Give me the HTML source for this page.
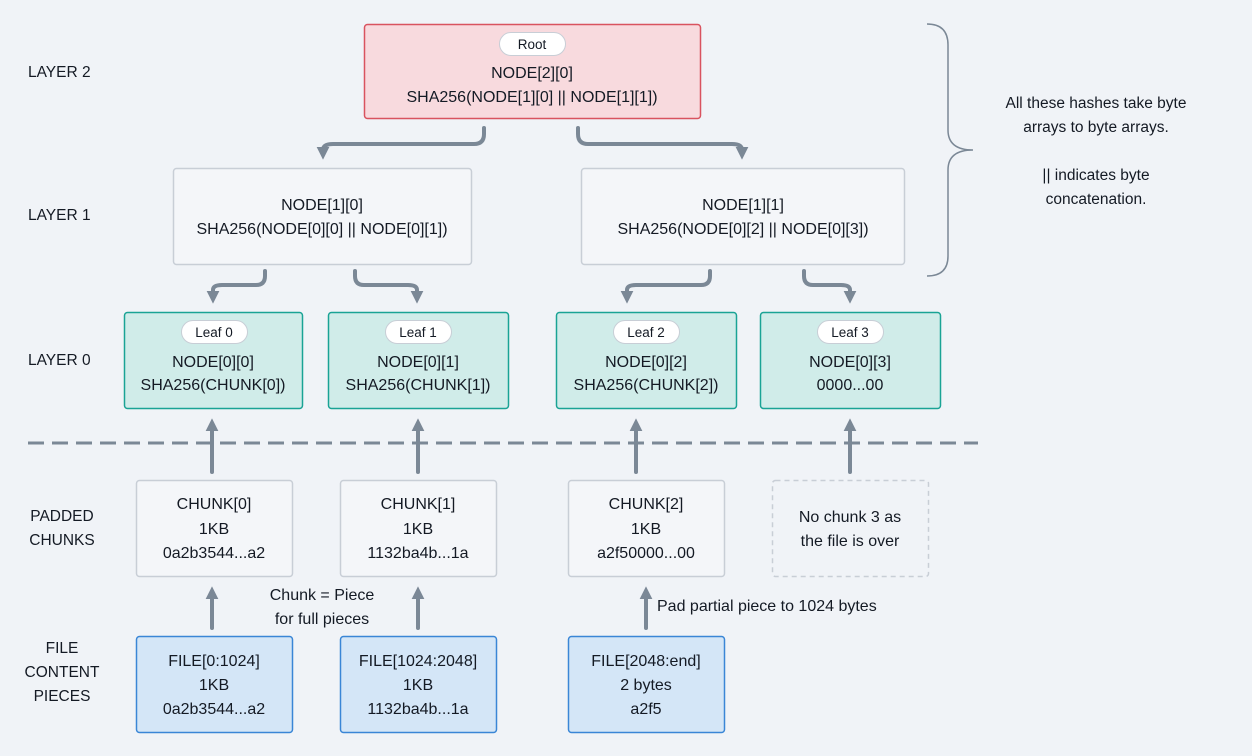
<!DOCTYPE html>
<html><head><meta charset="utf-8"><style>
html,body{margin:0;padding:0;background:#f0f3f7;}
svg{display:block;font-family:"Liberation Sans",sans-serif;font-size:16px;}
text{fill:#141a24;}
</style></head><body>
<svg width="1252" height="756" viewBox="0 0 1252 756" xmlns="http://www.w3.org/2000/svg">
<defs>
<marker id="ah" viewBox="0 0 10 10" refX="4" refY="5" markerWidth="3.2" markerHeight="3.2" orient="auto" markerUnits="strokeWidth">
<path d="M0,0 L10,5 L0,10 z" fill="#7b8896"/></marker>
</defs>
<rect width="1252" height="756" fill="#f0f3f7"/>

<g font-size="15.5">
<text x="28" y="77">LAYER 2</text>
<text x="28" y="220">LAYER 1</text>
<text x="28" y="365">LAYER 0</text>
<text x="62" y="521" text-anchor="middle">PADDED</text>
<text x="62" y="545" text-anchor="middle">CHUNKS</text>
<text x="62" y="653" text-anchor="middle">FILE</text>
<text x="62" y="677" text-anchor="middle">CONTENT</text>
<text x="62" y="701" text-anchor="middle">PIECES</text>
</g>

<rect x="364.5" y="24.5" width="336" height="94" rx="3" fill="#f8dade" stroke="#d9535f" stroke-width="1.5"/>
<rect x="499.5" y="32.5" width="66" height="23" rx="11.5" fill="#fff" stroke="#c8ced6"/>
<text x="532" y="49" text-anchor="middle" font-size="13.5">Root</text>
<text x="532" y="78" text-anchor="middle">NODE[2][0]</text>
<text x="532" y="102" text-anchor="middle">SHA256(NODE[1][0] || NODE[1][1])</text>

<rect x="173.5" y="168.5" width="298" height="96" rx="3" fill="#f4f6f9" stroke="#c8ced6" stroke-width="1.5"/>
<text x="322" y="210" text-anchor="middle">NODE[1][0]</text>
<text x="322" y="234" text-anchor="middle">SHA256(NODE[0][0] || NODE[0][1])</text>
<rect x="581.5" y="168.5" width="323" height="96" rx="3" fill="#f4f6f9" stroke="#c8ced6" stroke-width="1.5"/>
<text x="743" y="210" text-anchor="middle">NODE[1][1]</text>
<text x="743" y="234" text-anchor="middle">SHA256(NODE[0][2] || NODE[0][3])</text>

<g>
<rect x="124.5" y="312.5" width="178" height="96" rx="3" fill="#d0ece9" stroke="#1aa395" stroke-width="1.5"/>
<rect x="181.5" y="320.5" width="66" height="23" rx="11.5" fill="#fff" stroke="#c8ced6"/>
<text x="214" y="337" text-anchor="middle" font-size="13.5">Leaf 0</text>
<text x="213" y="367" text-anchor="middle">NODE[0][0]</text>
<text x="213" y="390" text-anchor="middle">SHA256(CHUNK[0])</text>

<rect x="328.5" y="312.5" width="180" height="96" rx="3" fill="#d0ece9" stroke="#1aa395" stroke-width="1.5"/>
<rect x="385.5" y="320.5" width="66" height="23" rx="11.5" fill="#fff" stroke="#c8ced6"/>
<text x="418" y="337" text-anchor="middle" font-size="13.5">Leaf 1</text>
<text x="418" y="367" text-anchor="middle">NODE[0][1]</text>
<text x="418" y="390" text-anchor="middle">SHA256(CHUNK[1])</text>

<rect x="556.5" y="312.5" width="180" height="96" rx="3" fill="#d0ece9" stroke="#1aa395" stroke-width="1.5"/>
<rect x="613.5" y="320.5" width="66" height="23" rx="11.5" fill="#fff" stroke="#c8ced6"/>
<text x="646" y="337" text-anchor="middle" font-size="13.5">Leaf 2</text>
<text x="646" y="367" text-anchor="middle">NODE[0][2]</text>
<text x="646" y="390" text-anchor="middle">SHA256(CHUNK[2])</text>

<rect x="760.5" y="312.5" width="180" height="96" rx="3" fill="#d0ece9" stroke="#1aa395" stroke-width="1.5"/>
<rect x="817.5" y="320.5" width="66" height="23" rx="11.5" fill="#fff" stroke="#c8ced6"/>
<text x="850" y="337" text-anchor="middle" font-size="13.5">Leaf 3</text>
<text x="850" y="367" text-anchor="middle">NODE[0][3]</text>
<text x="850" y="390" text-anchor="middle">0000...00</text>
</g>

<line x1="28" y1="443" x2="978" y2="443" stroke="#7b8896" stroke-width="3" stroke-dasharray="16,8"/>

<rect x="136.5" y="480.5" width="156" height="96" rx="3" fill="#f4f6f9" stroke="#c8ced6" stroke-width="1.5"/>
<text x="214" y="509" text-anchor="middle">CHUNK[0]</text>
<text x="214" y="534" text-anchor="middle">1KB</text>
<text x="214" y="558" text-anchor="middle">0a2b3544...a2</text>
<rect x="340.5" y="480.5" width="156" height="96" rx="3" fill="#f4f6f9" stroke="#c8ced6" stroke-width="1.5"/>
<text x="418" y="509" text-anchor="middle">CHUNK[1]</text>
<text x="418" y="534" text-anchor="middle">1KB</text>
<text x="418" y="558" text-anchor="middle">1132ba4b...1a</text>
<rect x="568.5" y="480.5" width="156" height="96" rx="3" fill="#f4f6f9" stroke="#c8ced6" stroke-width="1.5"/>
<text x="646" y="509" text-anchor="middle">CHUNK[2]</text>
<text x="646" y="534" text-anchor="middle">1KB</text>
<text x="646" y="558" text-anchor="middle">a2f50000...00</text>
<rect x="772.5" y="480.5" width="156" height="96" rx="3" fill="none" stroke="#c8ced6" stroke-width="1.5" stroke-dasharray="5,4"/>
<text x="850" y="522" text-anchor="middle">No chunk 3 as</text>
<text x="850" y="546" text-anchor="middle">the file is over</text>

<rect x="136.5" y="636.5" width="156" height="96" rx="3" fill="#d4e6f7" stroke="#3a86d6" stroke-width="1.5"/>
<text x="214" y="666" text-anchor="middle">FILE[0:1024]</text>
<text x="214" y="690" text-anchor="middle">1KB</text>
<text x="214" y="714" text-anchor="middle">0a2b3544...a2</text>
<rect x="340.5" y="636.5" width="156" height="96" rx="3" fill="#d4e6f7" stroke="#3a86d6" stroke-width="1.5"/>
<text x="418" y="666" text-anchor="middle">FILE[1024:2048]</text>
<text x="418" y="690" text-anchor="middle">1KB</text>
<text x="418" y="714" text-anchor="middle">1132ba4b...1a</text>
<rect x="568.5" y="636.5" width="156" height="96" rx="3" fill="#d4e6f7" stroke="#3a86d6" stroke-width="1.5"/>
<text x="646" y="666" text-anchor="middle">FILE[2048:end]</text>
<text x="646" y="690" text-anchor="middle">2 bytes</text>
<text x="646" y="714" text-anchor="middle">a2f5</text>

<text x="322" y="600" text-anchor="middle">Chunk = Piece</text>
<text x="322" y="624" text-anchor="middle">for full pieces</text>
<text x="657" y="611">Pad partial piece to 1024 bytes</text>

<g fill="none" stroke="#7b8896" stroke-width="4" stroke-linecap="round">
<path d="M484,128 V134 Q484,144 474,144 H333 Q323,144 323,150 L323,152" marker-end="url(#ah)"/>
<path d="M578,128 V134 Q578,144 588,144 H732 Q742,144 742,150 L742,152" marker-end="url(#ah)"/>
<path d="M265,271 V276 Q265,285 256,285 H222 Q213,285 213,290 L213,296" marker-end="url(#ah)"/>
<path d="M355,271 V276 Q355,285 364,285 H408 Q417,285 417,290 L417,296" marker-end="url(#ah)"/>
<path d="M710,271 V276 Q710,285 701,285 H636 Q627,285 627,290 L627,296" marker-end="url(#ah)"/>
<path d="M804,271 V276 Q804,285 813,285 H841 Q850,285 850,290 L850,296" marker-end="url(#ah)"/>
<path d="M212,472 V426" marker-end="url(#ah)"/>
<path d="M418,472 V426" marker-end="url(#ah)"/>
<path d="M636,472 V426" marker-end="url(#ah)"/>
<path d="M850,472 V426" marker-end="url(#ah)"/>
<path d="M212,628 V594" marker-end="url(#ah)"/>
<path d="M418,628 V594" marker-end="url(#ah)"/>
<path d="M646,628 V594" marker-end="url(#ah)"/>
</g>

<path d="M927,24 Q948,24 948,45 V130 Q948,150 973,150 Q948,150 948,170 V256 Q948,276 927,276" fill="none" stroke="#7b8896" stroke-width="1.5"/>
<g text-anchor="middle" font-size="15.5">
<text x="1096" y="108">All these hashes take byte</text>
<text x="1096" y="132">arrays to byte arrays.</text>
<text x="1096" y="180">|| indicates byte</text>
<text x="1096" y="204">concatenation.</text>
</g>
</svg>
</body></html>
